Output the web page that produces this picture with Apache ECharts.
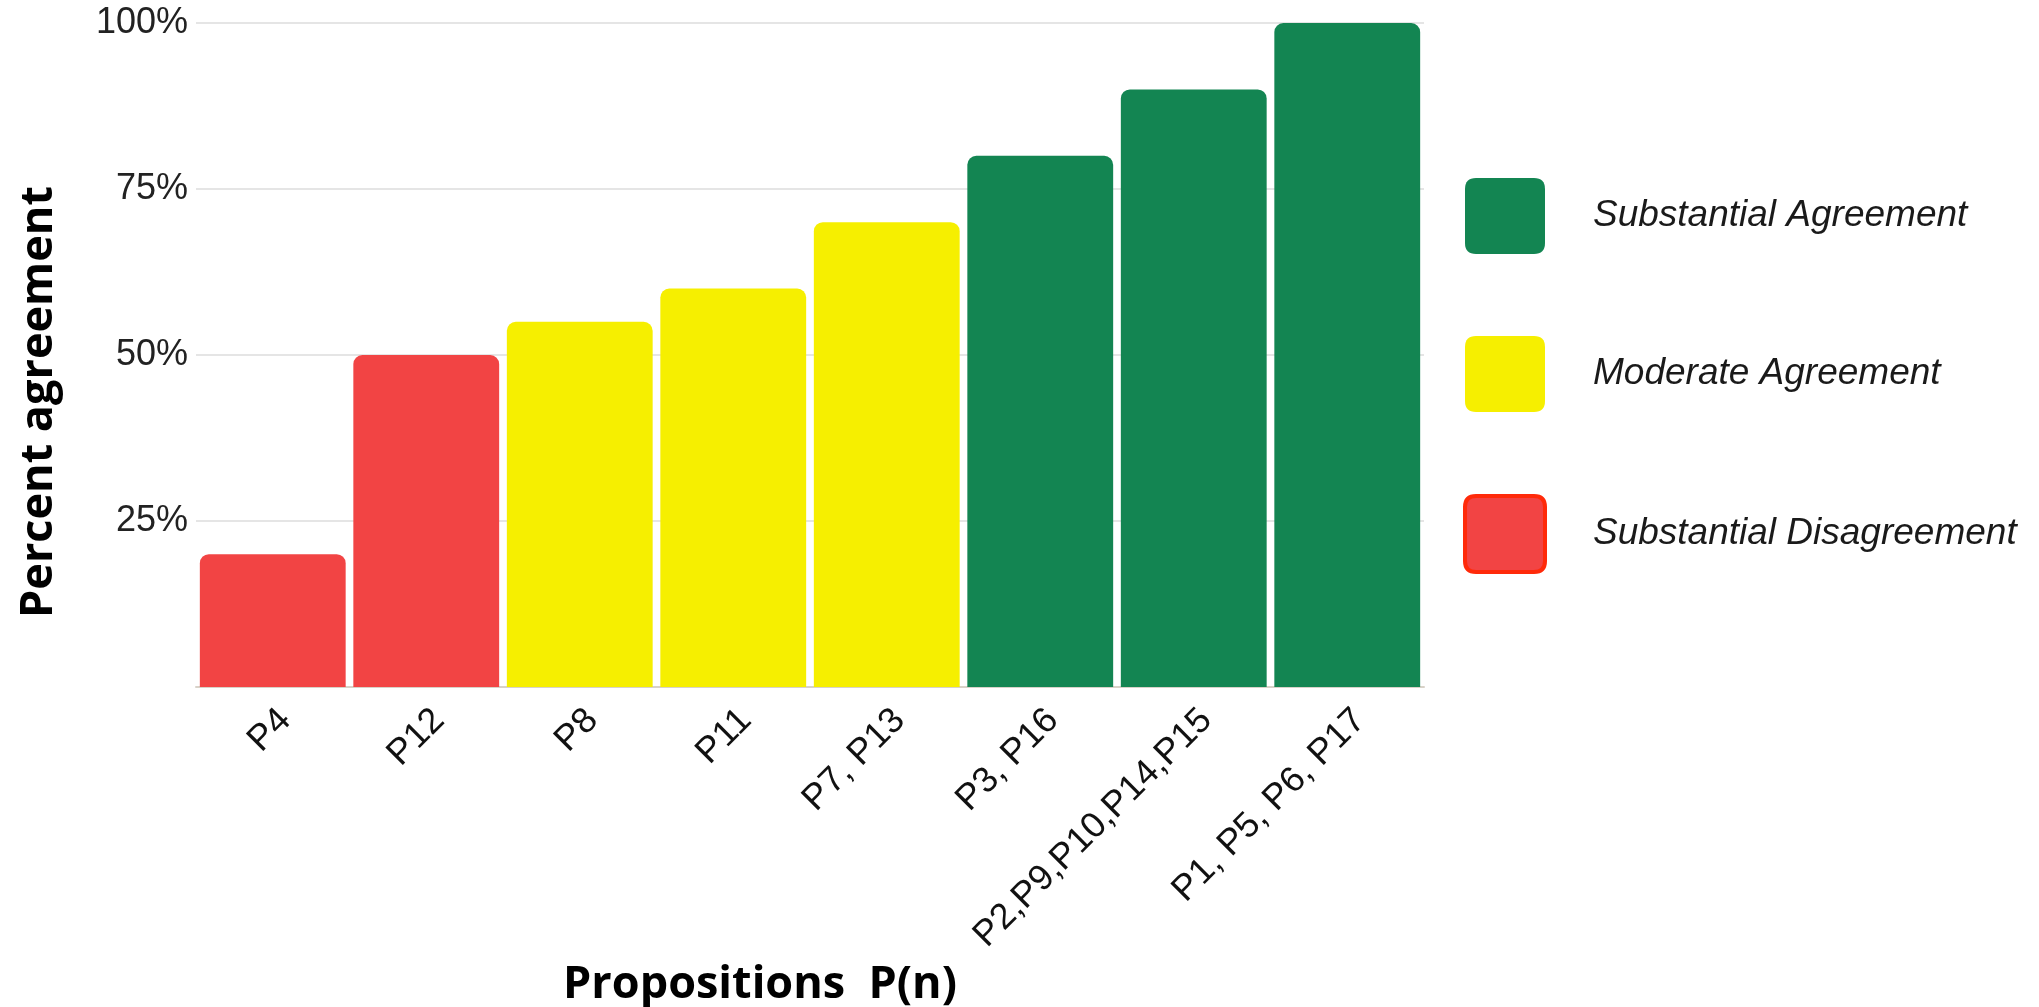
<!DOCTYPE html>
<html>
<head>
<meta charset="utf-8">
<script src="https://cdn.jsdelivr.net/npm/echarts@6/dist/echarts.min.js"></script>
<style>
html,body{margin:0;padding:0;background:#fff;}
#chart{width:2039px;height:1007px;}
</style>
</head>
<body>
<div id="chart"></div>
<script>
const categories = ['P4', 'P12', 'P8', 'P11', 'P7, P13', 'P3, P16', 'P2,P9,P10,P14,P15', 'P1, P5, P6, P17'];
const disagreementValues = [20, 50, null, null, null, null, null, null];
const moderateValues = [null, null, 55, 60, 70, null, null, null];
const substantialValues = [null, null, null, null, null, 80, 90, 100];
const yTicks = [0, 25, 50, 75, 100];
const seriesNames = ['Substantial Agreement', 'Moderate Agreement', 'Substantial Disagreement'];

const GREEN = '#138552', YELLOW = '#f6ef00', RED = '#f24444';
const ICON = 'path://M11,0 H69 Q80,0 80,11 V65 Q80,76 69,76 H11 Q0,76 0,65 V11 Q0,0 11,0 Z';

const chart = echarts.init(document.getElementById('chart'), null, {renderer: 'canvas'});

function barSeries(name, data, color) {
  return {
    name: name,
    type: 'bar',
    stack: 'all',
    data: data,
    barCategoryGap: '5%',
    itemStyle: {color: color, borderRadius: [9, 9, 0, 0]},
    emphasis: {disabled: true}
  };
}

chart.setOption({
  animation: false,
  backgroundColor: '#ffffff',
  grid: {left: 196, right: 615, top: 23, bottom: 320, containLabel: false, outerBoundsMode: 'none'},
  legend: {
    orient: 'vertical',
    left: 1458,
    top: 173,
    itemWidth: 80,
    itemHeight: 76,
    itemGap: 82,
    icon: ICON,
    selectedMode: false,
    textStyle: {
      fontFamily: 'Liberation Sans, Arial, sans-serif',
      fontStyle: 'italic',
      fontSize: 37,
      color: '#1a1a1a',
      padding: [0, 0, 0, 43]
    },
    data: [
      {name: seriesNames[0], itemStyle: {color: GREEN}},
      {name: seriesNames[1], itemStyle: {color: YELLOW}},
      {name: seriesNames[2], itemStyle: {color: RED, borderColor: '#ff2a0a', borderWidth: 4}}
    ]
  },
  xAxis: {
    type: 'category',
    data: categories,
    name: 'Propositions  P(n)',
    nameLocation: 'middle',
    nameGap: 276,
    nameTextStyle: {
      fontFamily: 'Open Sans, sans-serif',
      fontWeight: 'bold',
      fontSize: 45,
      color: '#000',
      padding: [0, 100, 0, 0]
    },
    axisLine: {show: true, lineStyle: {color: '#d8d2c8', width: 2}},
    axisTick: {show: false},
    axisLabel: {
      rotate: 45,
      fontFamily: 'Liberation Sans, Arial, sans-serif',
      fontSize: 36,
      color: '#111',
      margin: 15,
      verticalAlign: 'top',
      interval: 0
    }
  },
  yAxis: {
    type: 'value',
    min: yTicks[0],
    max: yTicks[yTicks.length - 1],
    interval: 25,
    name: 'Percent agreement',
    nameLocation: 'middle',
    nameGap: 134,
    nameTextStyle: {
      fontFamily: 'Open Sans, sans-serif',
      fontWeight: 'bold',
      fontSize: 45,
      color: '#000',
      padding: [0, 94, 0, 0]
    },
    axisLine: {show: false},
    axisTick: {show: false},
    splitLine: {lineStyle: {color: '#dcdcdc', width: 1.5}},
    axisLabel: {
      showMinLabel: false,
      formatter: '{value}%',
      fontFamily: 'Liberation Sans, Arial, sans-serif',
      fontSize: 36,
      color: '#222',
      margin: 8
    }
  },
  series: [
    barSeries(seriesNames[0], substantialValues, GREEN),
    barSeries(seriesNames[1], moderateValues, YELLOW),
    barSeries(seriesNames[2], disagreementValues, RED)
  ]
});
</script>
</body>
</html>
